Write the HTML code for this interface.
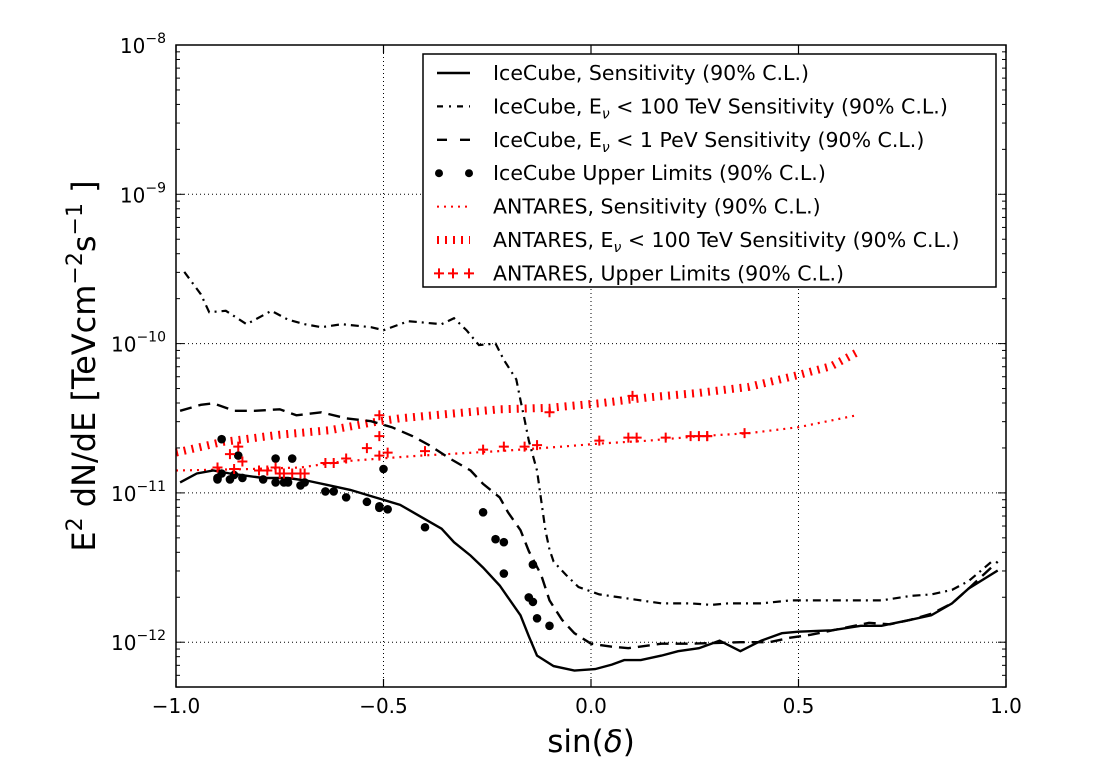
<!DOCTYPE html>
<html><head><meta charset="utf-8"><style>
html,body{margin:0;padding:0;background:#fff;}
svg{display:block;font-family:"DejaVu Sans","Liberation Sans",sans-serif;}
</style></head><body>
<svg id="chart" width="1110" height="779" viewBox="0 0 1110 779" xmlns="http://www.w3.org/2000/svg">
<rect width="1110" height="779" fill="#fff"/>
<g id="grid"></g><g id="series"></g><g id="axes"></g><g id="legend"></g>
</svg>
<script>
// ---- data (x = sin(delta), y = log10 of E^2 dN/dE in TeV cm^-2 s^-1) ----
const icSensX=[-0.99,-0.95,-0.91,-0.87,-0.79,-0.73,-0.68,-0.63,-0.58,-0.52,-0.46,-0.41,-0.36,-0.33,-0.29,-0.26,-0.22,-0.20,-0.17,-0.15,-0.13,-0.09,-0.04,0.01,0.05,0.08,0.12,0.17,0.21,0.26,0.31,0.36,0.41,0.46,0.50,0.58,0.65,0.70,0.77,0.82,0.87,0.91,0.98];
const icSensY=[-10.93,-10.87,-10.85,-10.87,-10.90,-10.90,-10.92,-10.95,-10.98,-11.03,-11.08,-11.16,-11.24,-11.33,-11.42,-11.50,-11.62,-11.70,-11.82,-11.96,-12.09,-12.16,-12.19,-12.18,-12.15,-12.12,-12.12,-12.09,-12.06,-12.04,-11.99,-12.06,-11.99,-11.94,-11.93,-11.92,-11.89,-11.89,-11.85,-11.82,-11.74,-11.64,-11.52];
const icPeVX=[-0.99,-0.94,-0.91,-0.86,-0.81,-0.75,-0.71,-0.65,-0.59,-0.53,-0.48,-0.43,-0.39,-0.34,-0.29,-0.26,-0.22,-0.20,-0.17,-0.15,-0.12,-0.10,-0.07,-0.04,0.00,0.05,0.09,0.17,0.24,0.36,0.43,0.48,0.53,0.60,0.67,0.72,0.77,0.82,0.87,0.91,0.98];
const icPeVY=[-10.45,-10.41,-10.40,-10.45,-10.45,-10.44,-10.48,-10.46,-10.50,-10.52,-10.56,-10.62,-10.68,-10.77,-10.85,-10.94,-11.03,-11.13,-11.25,-11.39,-11.55,-11.72,-11.85,-11.94,-12.01,-12.03,-12.04,-12.01,-12.01,-12.00,-12.00,-11.97,-11.95,-11.91,-11.87,-11.88,-11.85,-11.81,-11.74,-11.64,-11.46];
const icTeVX=[-0.98,-0.94,-0.92,-0.88,-0.83,-0.77,-0.73,-0.69,-0.65,-0.60,-0.53,-0.50,-0.44,-0.36,-0.33,-0.30,-0.27,-0.23,-0.21,-0.18,-0.17,-0.16,-0.15,-0.13,-0.12,-0.11,-0.10,-0.09,-0.06,-0.03,0.02,0.07,0.12,0.17,0.24,0.29,0.33,0.41,0.48,0.55,0.62,0.70,0.77,0.82,0.87,0.91,0.97];
const icTeVY=[-9.52,-9.67,-9.79,-9.78,-9.87,-9.78,-9.84,-9.87,-9.89,-9.87,-9.89,-9.91,-9.85,-9.87,-9.83,-9.91,-10.01,-10.00,-10.11,-10.24,-10.38,-10.51,-10.65,-10.85,-11.05,-11.25,-11.38,-11.46,-11.55,-11.63,-11.68,-11.70,-11.72,-11.74,-11.74,-11.75,-11.74,-11.74,-11.72,-11.72,-11.72,-11.72,-11.69,-11.68,-11.65,-11.59,-11.45];
const icULX=[-0.90,-0.90,-0.89,-0.89,-0.87,-0.86,-0.85,-0.84,-0.79,-0.76,-0.72,-0.76,-0.74,-0.73,-0.70,-0.69,-0.64,-0.62,-0.59,-0.54,-0.51,-0.51,-0.49,-0.50,-0.40,-0.26,-0.23,-0.21,-0.21,-0.14,-0.15,-0.14,-0.13,-0.10];
const icULY=[-10.91,-10.90,-10.64,-10.87,-10.91,-10.88,-10.75,-10.90,-10.91,-10.77,-10.77,-10.93,-10.93,-10.93,-10.95,-10.93,-10.99,-10.99,-11.03,-11.06,-11.09,-11.10,-11.11,-10.84,-11.23,-11.13,-11.31,-11.33,-11.54,-11.48,-11.70,-11.73,-11.84,-11.89];
const anSensX=[-1.0,-0.82,-0.70,-0.60,-0.51,-0.41,-0.22,-0.07,0.02,0.14,0.26,0.38,0.50,0.64];
const anSensY=[-10.85,-10.84,-10.83,-10.79,-10.77,-10.75,-10.72,-10.69,-10.67,-10.65,-10.62,-10.60,-10.56,-10.48];
const anTeVX=[-1.0,-0.89,-0.75,-0.63,-0.51,-0.46,-0.34,-0.22,-0.10,0.02,0.14,0.26,0.38,0.50,0.58,0.64];
const anTeVY=[-10.73,-10.66,-10.61,-10.58,-10.52,-10.50,-10.47,-10.44,-10.43,-10.40,-10.36,-10.33,-10.29,-10.21,-10.15,-10.06];
const anULX=[-0.90,-0.90,-0.86,-0.87,-0.85,-0.84,-0.80,-0.78,-0.76,-0.75,-0.74,-0.72,-0.70,-0.69,-0.64,-0.62,-0.59,-0.54,-0.51,-0.51,-0.51,-0.49,-0.40,-0.26,-0.21,-0.16,-0.13,-0.10,0.02,0.10,0.09,0.11,0.18,0.24,0.26,0.28,0.28,0.37];
const anULY=[-10.83,-10.83,-10.84,-10.74,-10.69,-10.79,-10.85,-10.85,-10.83,-10.87,-10.87,-10.87,-10.87,-10.87,-10.80,-10.80,-10.77,-10.70,-10.62,-10.48,-10.75,-10.73,-10.72,-10.71,-10.69,-10.69,-10.68,-10.46,-10.65,-10.35,-10.63,-10.63,-10.63,-10.62,-10.62,-10.62,-10.62,-10.60];
const xTicks=[-1.0,-0.5,0.0,0.5,1.0];
const xTickLabels=["\u22121.0","\u22120.5","0.0","0.5","1.0"];
const yDecades=[-8,-9,-10,-11,-12];

// ---- scales ----
const L=176,R=1006,T=45,B=687;
const X=v=>591+v*415;
const Y=l=>45+(-8-l)*149.3;
const NS="http://www.w3.org/2000/svg";
function mk(tag,attrs,parent){const e=document.createElementNS(NS,tag);for(const k in attrs)e.setAttribute(k,attrs[k]);parent.appendChild(e);return e;}
const grid=document.getElementById('grid'),ser=document.getElementById('series'),ax=document.getElementById('axes'),leg=document.getElementById('legend');

xTicks.forEach(v=>{if(v>-1&&v<1){const g=mk('line',{x1:X(v),x2:X(v),y1:T,y2:B,stroke:'#000','stroke-width':1,'stroke-dasharray':'1,3'},grid);

}});
yDecades.forEach(d=>{if(d<-8){const g=mk('line',{x1:L,x2:R,y1:Y(d),y2:Y(d),stroke:'#000','stroke-width':1,'stroke-dasharray':'1,3'},grid);

}});

function line(xs,ys,attrs,name){const d=xs.map((x,i)=>(i?'L':'M')+X(x).toFixed(1)+','+Y(ys[i]).toFixed(1)).join('');
const p=mk('path',Object.assign({d:d,fill:'none'},attrs),ser);

}
line(anTeVX,anTeVY,{stroke:'#f00','stroke-width':8,'stroke-dasharray':'2,6'},'antares-100tev-sensitivity-line');
line(anSensX,anSensY,{stroke:'#f00','stroke-width':2.2,'stroke-dasharray':'2,5'},'antares-sensitivity-line');
line(icTeVX,icTeVY,{stroke:'#000','stroke-width':2.2,'stroke-dasharray':'8,5,2,5'},'icecube-100tev-sensitivity-line');
line(icPeVX,icPeVY,{stroke:'#000','stroke-width':2.4,'stroke-dasharray':'12,7'},'icecube-1pev-sensitivity-line');
line(icSensX,icSensY,{stroke:'#000','stroke-width':2.4},'icecube-sensitivity-line');
icULX.forEach((x,i)=>{const c=mk('circle',{cx:X(x),cy:Y(icULY[i]),r:4.3,fill:'#000'},ser);

});
anULX.forEach((x,i)=>{const cx=X(x),cy=Y(anULY[i]);const p=mk('path',{d:`M${cx-5},${cy}H${cx+5}M${cx},${cy-5}V${cy+5}`,stroke:'#f00','stroke-width':2,fill:'none'},ser);

});

const fr=mk('rect',{x:L,y:T,width:R-L,height:B-T,fill:'none',stroke:'#000','stroke-width':1.5},ax);


xTicks.forEach((v,i)=>{mk('line',{x1:X(v),x2:X(v),y1:B,y2:B-8,stroke:'#000','stroke-width':1.2},ax);mk('line',{x1:X(v),x2:X(v),y1:T,y2:T+8,stroke:'#000','stroke-width':1.2},ax);
const t=mk('text',{x:X(v),y:B+26,'text-anchor':'middle','font-size':20},ax);t.textContent=xTickLabels[i];

});
for(let d=-8;d>=-13;d--){for(let m=1;m<10;m++){const l=d+Math.log10(m);const y=Y(l);if(y<T-0.5||y>B+0.5)continue;const len=m===1?8:4;
mk('line',{x1:L,x2:L+len,y1:y,y2:y,stroke:'#000','stroke-width':1},ax);mk('line',{x1:R,x2:R-len,y1:y,y2:y,stroke:'#000','stroke-width':1},ax);}}
yDecades.forEach(d=>{const t=mk('text',{x:L-10,y:Y(d)+8,'text-anchor':'end','font-size':20},ax);


t.innerHTML='10<tspan dy="-10" font-size="14">'+(d<0?'\u2212':'')+Math.abs(d)+'</tspan>';});
const xl=mk('text',{x:591,y:752,'text-anchor':'middle','font-size':31},ax);xl.innerHTML='sin(<tspan font-style="italic">δ</tspan>)';


const yl=mk('text',{x:0,y:0,'text-anchor':'middle','font-size':32,transform:'translate(95,366) rotate(-90)'},ax);
yl.innerHTML='E<tspan dy="-13" font-size="22">2</tspan><tspan dy="13"> dN/dE [TeVcm</tspan><tspan dy="-13" font-size="22">\u22122</tspan><tspan dy="13">s</tspan><tspan dy="-13" font-size="22">\u22121</tspan><tspan dy="13"> ]</tspan>';



const lb=mk('rect',{x:423,y:54,width:573,height:233,fill:'#fff',stroke:'#000','stroke-width':1.5},leg);


const entries=[['IceCube, Sensitivity (90% C.L.)','','solid'],['IceCube, E','< 100 TeV Sensitivity (90% C.L.)','dashdot'],['IceCube, E','< 1 PeV Sensitivity (90% C.L.)','dash'],['IceCube Upper Limits (90% C.L.)','','dots'],['ANTARES, Sensitivity (90% C.L.)','','rdot'],['ANTARES, E','< 100 TeV Sensitivity (90% C.L.)','rthick'],['ANTARES, Upper Limits (90% C.L.)','','plus']];
entries.forEach((e,i)=>{const y=73+i*33.4;const g=mk('g',{},leg);


const s=e[2];
if(s==='solid')mk('line',{x1:437,x2:470,y1:y,y2:y,stroke:'#000','stroke-width':2.4},g);
if(s==='dashdot')mk('line',{x1:437,x2:470,y1:y,y2:y,stroke:'#000','stroke-width':2.2,'stroke-dasharray':'6,6,2,6'},g);
if(s==='dash')mk('line',{x1:437,x2:470,y1:y,y2:y,stroke:'#000','stroke-width':2.4,'stroke-dasharray':'10,13'},g);
if(s==='dots'){mk('circle',{cx:439,cy:y,r:4,fill:'#000'},g);mk('circle',{cx:469,cy:y,r:4,fill:'#000'},g);}
if(s==='rdot')mk('line',{x1:437,x2:470,y1:y,y2:y,stroke:'#f00','stroke-width':2,'stroke-dasharray':'2,5'},g);
if(s==='rthick')mk('line',{x1:437,x2:470,y1:y,y2:y,stroke:'#f00','stroke-width':8,'stroke-dasharray':'2,6'},g);
if(s==='plus')[439,453,469].forEach(cx=>mk('path',{d:`M${cx-5},${y}H${cx+5}M${cx},${y-5}V${y+5}`,stroke:'#f00','stroke-width':2,fill:'none'},g));
const t=mk('text',{x:493,y:y+7,'font-size':20.5},g);
t.textContent=e[0];
if(e[1]){const sub=mk('tspan',{dy:5,'font-size':14,'font-style':'italic'},t);sub.textContent='ν';
const rest=mk('tspan',{dy:-5},t);rest.textContent=' '+e[1];}
});
</script>
</body></html>
